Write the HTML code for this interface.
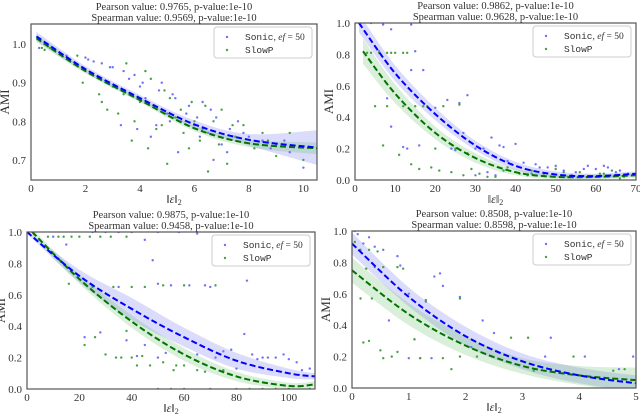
<!DOCTYPE html>
<html><head><meta charset="utf-8"><style>
html,body{margin:0;padding:0;background:#fff;}
svg text{font-family:"Liberation Serif",serif;fill:#333;}
.mono{font-family:"Liberation Mono",monospace;}
</style></head><body>
<svg id="chart" width="640" height="414" xmlns="http://www.w3.org/2000/svg"></svg>
<script>
// ---- data ----
const titles1 = ["Pearson value: 0.9765, p-value:1e-10","Pearson value: 0.9862, p-value:1e-10","Pearson value: 0.9875, p-value:1e-10","Pearson value: 0.8508, p-value:1e-10"];
const titles2 = ["Spearman value: 0.9569, p-value:1e-10","Spearman value: 0.9628, p-value:1e-10","Spearman value: 0.9458, p-value:1e-10","Spearman value: 0.8598, p-value:1e-10"];
const xTicks = [[0,2,4,6,8,10],[0,10,20,30,40,50,60,70],[0,20,40,60,80,100],[0,1,2,3,4,5]];
const yTicks = [[0.7,0.8,0.9,1.0],[0,0.2,0.4,0.6,0.8,1.0],[0,0.2,0.4,0.6,0.8,1.0],[0,0.2,0.4,0.6,0.8,1.0]];
const xDomains = [[0,10.5],[0,70],[0,110],[0,5]];
const yDomains = [[0.648,1.052],[0,1],[0,1],[0,1]];
// fit curves
const blueFitX = [[0.2,2,4,6,8,10.5],[1,10,20,30,40,50,60,70],[0,20,40,60,80,100,110],[0,1,2,3,4,5]];
const blueFitY = [[1.02,0.935,0.86,0.792,0.752,0.732],[1.0,0.68,0.42,0.22,0.09,0.035,0.025,0.04],[1.0,0.72,0.51,0.33,0.18,0.1,0.08],[0.92,0.58,0.33,0.17,0.08,0.03]];
const blueBand = [[0.012,0.008,0.008,0.01,0.015,0.045],[0.06,0.05,0.04,0.03,0.025,0.02,0.015,0.015],[0.01,0.04,0.07,0.06,0.05,0.03,0.02],[0.07,0.06,0.06,0.05,0.05,0.05]];
const greenFitX = [[0.2,2,4,6,8,10.5],[2,10,20,30,40,50,60,70],[2,20,40,60,80,100,110],[0,1,2,3,4,5]];
const greenFitY = [[1.015,0.93,0.855,0.782,0.743,0.73],[0.82,0.55,0.3,0.14,0.05,0.02,0.02,0.03],[1.0,0.7,0.43,0.22,0.08,0.02,0.03],[0.75,0.47,0.27,0.14,0.08,0.05]];
const greenBand = [[0.01,0.006,0.006,0.008,0.01,0.015],[0.08,0.06,0.04,0.03,0.02,0.015,0.015,0.015],[0.02,0.03,0.04,0.04,0.03,0.02,0.02],[0.08,0.07,0.06,0.05,0.06,0.08]];
// scatter
const blueX = [
[0.3,1.3,2,2.3,2.6,3,3.4,3.8,4,4.2,4.5,4.8,5,5.2,5.5,5.8,6,6.3,6.5,6.8,7,7.3,7.6,8,8.5,9,9.5,10,4.4,3.3,5.4,7.2,6.7,2.1,2.9,3.6,4.1,4.7,5.1,5.7,6.1,6.6,7.8,8.8,9.3,3.9,4.6,5.3,6.2],
[4,7,9,14,6,15,8,9,14,17,20,23,26,28,12,16,25,30,34,36,40,38,42,45,48,50,52,55,58,60,62,65,68,33,35,30,44,54,13,24,27,32,37,46,57,63,66],
[10,15,25,30,35,40,45,50,58,65,48,50,55,62,70,84,22,28,38,45,50,58,65,72,78,83,86,90,95,100,105,108,80,35,42,53,68,75,88,92,98,103],
[0.05,0.1,0.2,0.3,0.4,0.55,0.8,0.85,0.65,1,1.1,1.2,1.3,1.45,1.55,1.6,1.9,2.3,2.5,2.1,3.5,3.4,4.1,4.7,4.95,1.0,1.4]];
const blueY = [
[0.99,0.97,0.965,0.955,0.95,0.94,0.93,0.92,0.89,0.86,0.84,0.9,0.82,0.87,0.8,0.84,0.79,0.85,0.77,0.81,0.74,0.78,0.8,0.76,0.75,0.74,0.72,0.68,0.76,0.79,0.72,0.72,0.7,0.96,0.94,0.91,0.9,0.88,0.8,0.82,0.81,0.83,0.77,0.73,0.75,0.78,0.79,0.86,0.76],
[1.0,0.99,0.96,0.99,0.82,0.82,0.52,0.34,0.7,0.7,0.46,0.51,0.49,0.54,0.21,0.22,0.19,0.2,0.27,0.22,0.23,0.12,0.11,0.1,0.08,0.09,0.06,0.05,0.09,0.07,0.09,0.05,0.04,0.05,0.03,0.03,0.04,0.03,0.2,0.2,0.3,0.2,0.21,0.08,0.07,0.08,0.06],
[0.97,0.92,1.0,1.0,1.0,1.0,0.95,1.0,1.0,0.99,0.82,0.67,0.66,0.66,0.65,0.69,0.33,0.36,0.31,0.28,0.2,0.24,0.22,0.2,0.25,0.35,0.22,0.2,0.2,0.19,0.12,0.13,0.13,0.65,0.21,0.23,0.66,0.24,0.19,0.2,0.22,0.17],
[1.0,0.98,0.92,0.96,0.9,0.88,0.84,0.78,0.43,0.6,0.31,0.19,0.55,0.71,0.73,0.65,0.58,0.43,0.35,0.26,0.32,0.2,0.2,0.12,0.2,0.19,0.19]];
const greenX = [
[0.4,0.7,1.7,2.5,2.6,2.8,3.2,3.5,3.8,4,4.2,4.6,4.9,5.1,5.3,5.6,5.9,6.2,6.4,6.5,6.7,7,7.2,7.5,7.8,8.2,8.5,9,9.5,10,4.3,3.7,5,0.5,1.9,3,3.4,4.4,5.5,6,6.9,7.4,8.7,6.3,5.8,4.8],
[3,6,8,10,12,5,8,12,15,18,22,26,7,11,14,16,19,21,24,27,29,31,35,38,41,44,47,50,53,56,59,62,66,69,20,25,28,4,9,13,17,33,37,43,52,61,64,67],
[8,12,17,20,24,28,32,38,16,25,33,40,45,52,60,72,22,26,30,34,38,40,42,47,52,56,60,68,75,50,60,70,80,90,100,108,14,36,44,57,65,55,85,95],
[0.05,0.15,0.3,0.45,0.25,0.4,0.55,0.8,0.9,0.15,0.35,0.3,0.2,0.5,0.55,0.7,0.8,1.1,1.2,1.6,1.75,1.9,2.2,2.8,3.1,3.2,3.9,4.6,4.8,1.3,1.9]];
const greenY = [
[0.99,0.99,0.97,0.87,0.85,0.83,0.82,0.95,0.8,0.85,0.93,0.78,0.88,0.86,0.81,0.77,0.85,0.75,0.84,0.67,0.8,0.83,0.69,0.76,0.79,0.73,0.77,0.71,0.77,0.7,0.73,0.75,0.69,0.985,0.9,0.89,0.87,0.91,0.83,0.8,0.74,0.79,0.75,0.78,0.73,0.79],
[0.81,0.81,0.81,0.81,0.81,0.47,0.47,0.47,0.47,0.47,0.47,0.48,0.22,0.16,0.1,0.07,0.08,0.06,0.05,0.03,0.07,0.04,0.02,0.08,0.04,0.06,0.03,0.07,0.02,0.05,0.02,0.04,0.01,0.03,0.2,0.2,0.17,0.81,0.81,0.81,0.47,0.02,0.06,0.03,0.05,0.04,0.06,0.02],
[0.97,0.97,0.97,0.97,0.97,0.97,0.97,0.97,0.67,0.65,0.65,0.65,0.65,0.66,0.66,0.66,0.28,0.33,0.22,0.2,0.37,0.2,0.15,0.15,0.17,0.12,0.15,0.11,0.12,0.0,0.0,0.0,0.0,0.0,0.0,0.0,0.97,0.2,0.21,0.15,0.12,0.0,0.0,0.0],
[0.93,0.88,0.88,0.87,0.76,0.77,0.77,0.77,0.76,0.57,0.57,0.3,0.29,0.24,0.19,0.2,0.23,0.31,0.19,0.19,0.12,0.2,0.2,0.32,0.32,0.11,0.2,0.11,0.12,0.56,0.57]];

// ---- layout ----
const boxes = [{l:31,r:317,t:24,b:180},{l:355,r:636,t:23,b:180},{l:27,r:315,t:232,b:389},{l:352,r:636,t:231,b:388}];
const NS = "http://www.w3.org/2000/svg";
const svg = document.getElementById('chart');
function mk(tag, attrs, parent){const e=document.createElementNS(NS,tag);for(const k in attrs)e.setAttribute(k,attrs[k]);(parent||svg).appendChild(e);return e;}
// smooth path through pixel points (Catmull-Rom -> cubic bezier)
function smooth(pts, start){
  let d = (start?'M':'L')+pts[0][0].toFixed(1)+','+pts[0][1].toFixed(1);
  for(let i=0;i<pts.length-1;i++){
    const p0=pts[Math.max(0,i-1)],p1=pts[i],p2=pts[i+1],p3=pts[Math.min(pts.length-1,i+2)];
    const c1=[p1[0]+(p2[0]-p0[0])/6,p1[1]+(p2[1]-p0[1])/6];
    const c2=[p2[0]-(p3[0]-p1[0])/6,p2[1]-(p3[1]-p1[1])/6];
    d+='C'+c1[0].toFixed(1)+','+c1[1].toFixed(1)+' '+c2[0].toFixed(1)+','+c2[1].toFixed(1)+' '+p2[0].toFixed(1)+','+p2[1].toFixed(1);
  }
  return d;
}
function path(xs, ys, sx, sy){return smooth(xs.map((x,i)=>[sx(x),sy(ys[i])]),true);}
function bandPath(xs, ys, hw, sx, sy){
  const up = xs.map((x,i)=>[sx(x),sy(ys[i]+hw[i])]);
  const dn = xs.map((x,i)=>[sx(x),sy(ys[i]-hw[i])]).reverse();
  return smooth(up,true)+smooth(dn,false)+'Z';
}
boxes.forEach((B,p)=>{
  const g = mk('g',{});
  
  
  const [x0,x1]=xDomains[p],[y0,y1]=yDomains[p];
  const sx=v=>B.l+(v-x0)/(x1-x0)*(B.r-B.l);
  const sy=v=>B.b-(v-y0)/(y1-y0)*(B.b-B.t);
  const cx=(B.l+B.r)/2;
  const t1=mk('text',{x:cx,y:B.t-14,'text-anchor':'middle','font-size':'10.5'},g); t1.textContent=titles1[p];
   
  const t2=mk('text',{x:cx,y:B.t-3,'text-anchor':'middle','font-size':'10.5'},g); t2.textContent=titles2[p];
   
  const clip=mk('clipPath',{id:'c'+p},g); mk('rect',{x:B.l,y:B.t,width:B.r-B.l,height:B.b-B.t},clip);
  const pg=mk('g',{'clip-path':'url(#c'+p+')'},g);
  const bb=mk('path',{d:bandPath(blueFitX[p],blueFitY[p],blueBand[p],sx,sy),fill:'rgba(90,90,240,0.22)'},pg);
   
  const gb=mk('path',{d:bandPath(greenFitX[p],greenFitY[p],greenBand[p],sx,sy),fill:'rgba(80,180,80,0.22)'},pg);
   
  blueX[p].forEach((x,i)=>{const c=mk('circle',{cx:sx(x),cy:sy(blueY[p][i]),r:1.2,fill:'#7070ff'},pg);
     });
  greenX[p].forEach((x,i)=>{const c=mk('circle',{cx:sx(x),cy:sy(greenY[p][i]),r:1.2,fill:'#4aa04a'},pg);
     });
  const gl=mk('path',{d:path(greenFitX[p],greenFitY[p],sx,sy),fill:'none',stroke:'#007400','stroke-width':2,'stroke-dasharray':'6,3'},pg);
   
  const bl=mk('path',{d:path(blueFitX[p],blueFitY[p],sx,sy),fill:'none',stroke:'#0000ff','stroke-width':2,'stroke-dasharray':'6,3'},pg);
   
  const fr=mk('rect',{x:B.l,y:B.t,width:B.r-B.l,height:B.b-B.t,fill:'none',stroke:'#555','stroke-width':1.2},g);
   
  xTicks[p].forEach(v=>{const t=mk('text',{x:sx(v),y:B.b+12,'text-anchor':'middle','font-size':'11'},g);t.textContent=v;
     });
  yTicks[p].forEach(v=>{const t=mk('text',{x:B.l-5,y:sy(v)+4,'text-anchor':'end','font-size':'11'},g);t.textContent=v.toFixed(1);
     });
  const xl=mk('text',{x:cx,y:B.b+23,'text-anchor':'middle','font-size':'12'},g);
  xl.innerHTML='‖<tspan font-style="italic">ε</tspan>‖<tspan font-size="8" dy="2">2</tspan>';
   
  const yx=B.l-22, yy=(B.t+B.b)/2;
  const yl=mk('text',{x:yx,y:yy,'text-anchor':'middle','font-size':'13',transform:'rotate(-90 '+yx+' '+yy+')'},g); yl.textContent='AMI';
   
  const lg=mk('g',{},g);
   
  const lx=B.r-103, ly=B.t+3;
  mk('rect',{x:lx,y:ly,width:98,height:31,rx:3,fill:'rgba(255,255,255,0.85)',stroke:'#ccc'},lg);
  const e1=mk('g',{},lg);  
  mk('circle',{cx:lx+13,cy:ly+10,r:1.2,fill:'#7070ff'},e1);
  const s1=mk('text',{x:lx+31,y:ly+13,'font-size':'9.5'},e1);
  s1.innerHTML='<tspan class="mono">Sonic</tspan>, <tspan font-style="italic">ef</tspan> = 50';
  const e2=mk('g',{},lg);  
  mk('circle',{cx:lx+13,cy:ly+23,r:1.2,fill:'#4aa04a'},e2);
  const s2=mk('text',{x:lx+31,y:ly+26,'font-size':'9.5',class:'mono'},e2); s2.textContent='SlowP';
});
</script>
</body></html>
